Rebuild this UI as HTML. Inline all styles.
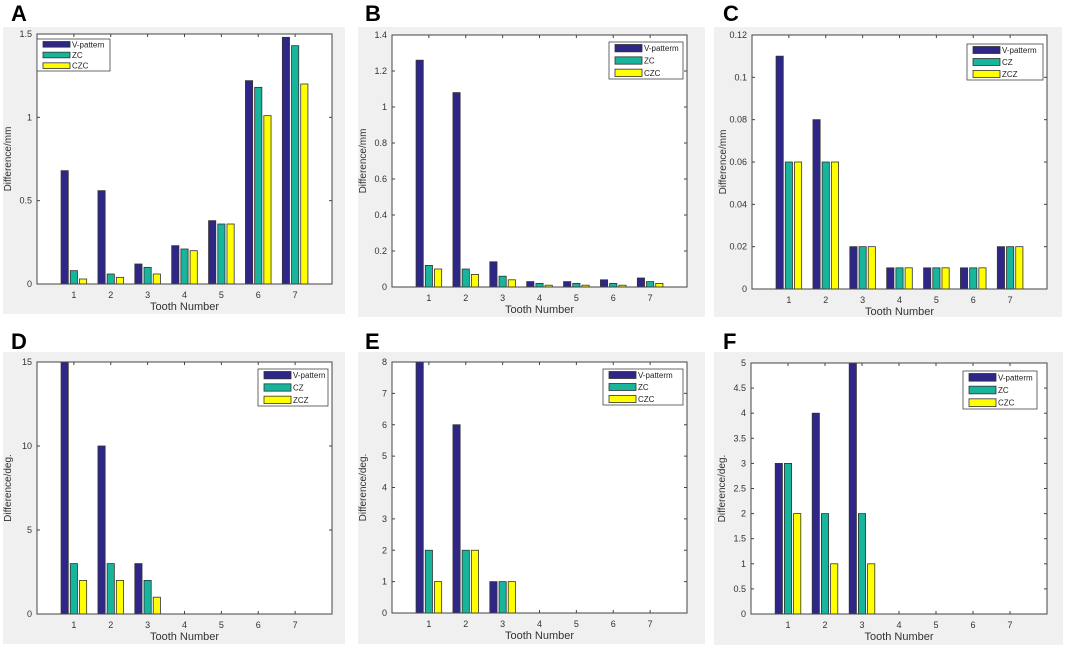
<!DOCTYPE html>
<html><head><meta charset="utf-8"><style>
body{margin:0;background:#fff;width:1065px;height:647px;overflow:hidden;font-family:"Liberation Sans",Arial,sans-serif}
svg text{font-family:"Liberation Sans",Arial,sans-serif}
</style></head><body>
<svg id="fig" width="1065" height="647" xmlns="http://www.w3.org/2000/svg"></svg>
<script>
const categories=[1,2,3,4,5,6,7];
const aV=[0.68,0.56,0.12,0.23,0.38,1.22,1.48], aZ=[0.08,0.06,0.10,0.21,0.36,1.18,1.43], aC=[0.03,0.04,0.06,0.20,0.36,1.01,1.20];
const bV=[1.26,1.08,0.14,0.03,0.03,0.04,0.05], bZ=[0.12,0.10,0.06,0.02,0.02,0.02,0.03], bC=[0.10,0.07,0.04,0.01,0.01,0.01,0.02];
const cV=[0.11,0.08,0.02,0.01,0.01,0.01,0.02], cZ=[0.06,0.06,0.02,0.01,0.01,0.01,0.02], cC=[0.06,0.06,0.02,0.01,0.01,0.01,0.02];
const dV=[15,10,3,0,0,0,0], dZ=[3,3,2,0,0,0,0], dC=[2,2,1,0,0,0,0];
const eV=[8,6,1,0,0,0,0], eZ=[2,2,1,0,0,0,0], eC=[1,2,1,0,0,0,0];
const fV=[3,4,5,0,0,0,0], fZ=[3,2,2,0,0,0,0], fC=[2,1,1,0,0,0,0];
const aTicks=["0","0.5","1","1.5"], bTicks=["0","0.2","0.4","0.6","0.8","1","1.2","1.4"];
const cTicks=["0","0.02","0.04","0.06","0.08","0.1","0.12"], dTicks=["0","5","10","15"];
const eTicks=["0","1","2","3","4","5","6","7","8"], fTicks=["0","0.5","1","1.5","2","2.5","3","3.5","4","4.5","5"];
const legA=["V-pattern","ZC","CZC"], legB=["V-patterm","ZC","CZC"], legC=["V-patterm","CZ","ZCZ"], legD=["V-pattern","CZ","ZCZ"];
const colors=["#2e2787","#16b59c","#ffff00"];
const NS="http://www.w3.org/2000/svg", fig=document.getElementById('fig');
function mk(tag,attrs,parent,txt){const e=document.createElementNS(NS,tag);for(const k in attrs)e.setAttribute(k,attrs[k]);if(txt!==undefined)e.textContent=txt;(parent||fig).appendChild(e);return e;}
const panels=[
 {id:"a",L:"A",lx:3,ly:2,bg:[3,27,342,287],ax:[37,34,332,284],ticks:aTicks,max:1.5,s:[aV,aZ,aC],leg:legA,lg:[37,39,73,32],yl:"Difference/mm"},
 {id:"b",L:"B",lx:357,ly:2,bg:[358,27,347,290],ax:[392,35,687,287],ticks:bTicks,max:1.4,s:[bV,bZ,bC],leg:legB,lg:[609,42,74,37],yl:"Difference/mm"},
 {id:"c",L:"C",lx:715,ly:2,bg:[714,27,348,290],ax:[752,35,1047,289],ticks:cTicks,max:0.12,s:[cV,cZ,cC],leg:legC,lg:[967,44,76,36],yl:"Difference/mm"},
 {id:"d",L:"D",lx:3,ly:330,bg:[3,352,342,292],ax:[37,362,332,614],ticks:dTicks,max:15,s:[dV,dZ,dC],leg:legD,lg:[258,369,70,37],yl:"Difference/deg."},
 {id:"e",L:"E",lx:357,ly:330,bg:[358,352,347,292],ax:[392,362,687,613],ticks:eTicks,max:8,s:[eV,eZ,eC],leg:legB,lg:[603,369,80,36],yl:"Difference/deg."},
 {id:"f",L:"F",lx:715,ly:330,bg:[714,352,349,293],ax:[751,363,1047,614],ticks:fTicks,max:5,s:[fV,fZ,fC],leg:legB,lg:[963,371,74,38],yl:"Difference/deg."}
];
panels.forEach(p=>{
 const g=mk('g',{});
 
 
 const lab=mk('text',{x:p.lx+8,y:p.ly+19,'font-size':22,'font-weight':'bold',fill:'#000'},g,p.L);
 
 
 mk('rect',{x:p.bg[0],y:p.bg[1],width:p.bg[2],height:p.bg[3],fill:'#f0f0f0'},g);
 const [x0,y0,x1,y1]=p.ax;
 mk('rect',{x:x0,y:y0,width:x1-x0,height:y1-y0,fill:'#fff'},g);
 const X=v=>x0+(x1-x0)*v/8, Y=v=>y1-(y1-y0)*v/p.max;
 const step=p.max/(p.ticks.length-1);
 p.ticks.forEach((t,i)=>{const yy=Y(i*step);
  mk('line',{x1:x0,y1:yy,x2:x0+3,y2:yy,stroke:'#444'},g);mk('line',{x1:x1,y1:yy,x2:x1-3,y2:yy,stroke:'#444'},g);
  const tt=mk('text',{x:x0-5,y:yy+3,'font-size':9,'text-anchor':'end',fill:'#333'},g,t);
  
  });
 categories.forEach(c=>{const xx=X(c);
  mk('line',{x1:xx,y1:y1,x2:xx,y2:y1-3,stroke:'#444'},g);mk('line',{x1:xx,y1:y0,x2:xx,y2:y0+3,stroke:'#444'},g);
  const tt=mk('text',{x:xx,y:y1+14,'font-size':9,'text-anchor':'middle',fill:'#333'},g,String(c));
  
  });
 const bw=7.2, off=9.2;
 p.s.forEach((arr,si)=>{arr.forEach((v,i)=>{if(v<=0)return;
  const cx=X(categories[i])+(si-1)*off, top=Math.max(Y(v),y0);
  const r=mk('rect',{x:cx-bw/2,y:top,width:bw,height:y1-top,fill:colors[si],stroke:'#333','stroke-width':0.8},g);
  
  });});
 mk('rect',{x:x0,y:y0,width:x1-x0,height:y1-y0,fill:'none',stroke:'#444','stroke-width':1},g);
 const xt=mk('text',{x:(x0+x1)/2,y:y1+26,'font-size':11,'text-anchor':'middle',fill:'#333'},g,'Tooth Number');
 
 
 const ycx=x0-26, ycy=(y0+y1)/2;
 const yt=mk('text',{x:ycx,y:ycy,'font-size':10,'text-anchor':'middle',fill:'#333',transform:`rotate(-90 ${ycx} ${ycy})`},g,p.yl);
 
 
 const [lx,ly,lw,lh]=p.lg;
 const lg=mk('g',{},g);
 
 
 mk('rect',{x:lx,y:ly,width:lw,height:lh,fill:'#fff',stroke:'#444','stroke-width':0.8},lg);
 const rh=lh/3;
 p.leg.forEach((name,i)=>{const ry=ly+rh*i;
  mk('rect',{x:lx+6,y:ry+2.5,width:27,height:rh-5,fill:colors[i],stroke:'#333','stroke-width':0.8},lg);
  const e=mk('text',{x:lx+35,y:ry+rh/2+3,'font-size':8,fill:'#222'},lg,name);
  
  });
});
</script>
</body></html>
